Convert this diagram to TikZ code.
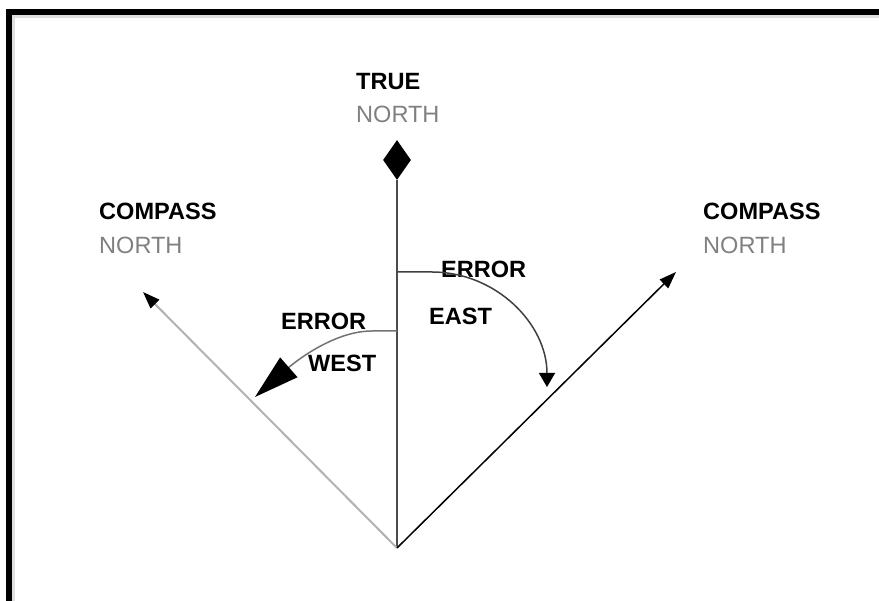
\documentclass[tikz,border=0pt]{standalone}
\usepackage{fontspec}
\setmainfont{Liberation Sans}
\usetikzlibrary{arrows.meta,shapes.geometric}

\begin{document}
\begin{tikzpicture}

  \useasboundingbox (0,0) rectangle (17.58,12.02);

  % frame
  \draw[line width=0.12cm,line join=miter] (0.18,0) -- (0.18,11.78) -- (17.58,11.78);
  \draw[gray!25,line width=0.05cm] (0.27,0) -- (0.27,11.69) -- (17.58,11.69);

  \coordinate (o)  at (7.94,1.06);
  \coordinate (cw) at (2.86,6.18);
  \coordinate (ce) at (13.52,6.58);
  \coordinate (ee) at (7.94,6.58);
  \coordinate (ew) at (7.94,5.40);
  \node[diamond,fill,inner sep=0pt,minimum width=0.56cm,minimum height=0.8cm] (tn) at (7.94,8.82) {};

  \begin{scope}[every node/.style={anchor=base west,font=\fontsize{13.4}{16}\selectfont\bfseries}]
    \node (true)  at (7.00,10.22) {TRUE};
    \node (cpw)   at (1.86,7.62)  {COMPASS};
    \node (cpe)   at (13.94,7.62) {COMPASS};
    \node (erre)  at (8.70,6.46)  {ERROR};
    \node (east)  at (8.46,5.52)  {EAST};
    \node (errw)  at (5.50,5.42)  {ERROR};
    \node (west)  at (6.04,4.58)  {WEST};
  \end{scope}

  \begin{scope}[every node/.style={anchor=base west,text=gray,font=\fontsize{13.4}{16}\selectfont}]
    \node (ntrue) at (7.00,9.56)  {NORTH};
    \node (nw)    at (1.86,6.94)  {NORTH};
    \node (ne)    at (13.94,6.94) {NORTH};
  \end{scope}

  \draw[black!70,line width=0.04cm] (o) -- (tn.south);
  \draw[gray!60,line width=0.04cm,-{Triangle[length=0.34cm,width=0.24cm,color=black]}] (o) -- (cw);
  \draw[line width=0.03cm,-{Triangle[length=0.34cm,width=0.24cm]}] (o) -- (ce);

  \draw[black!75,line width=0.03cm,-{Triangle[length=0.28cm,width=0.32cm,color=black]}]
    (ee) -- ++(0.7,0) arc[start angle=90,end angle=0,radius=2.3cm];
  \draw[black!55,line width=0.03cm,-{Triangle[length=0.9cm,width=0.52cm,color=black]}]
    (ew) -- ++(-0.5,0) .. controls (6.6,5.40) and (5.75,4.65) .. (5.10,4.08);

\end{tikzpicture}
\end{document}
